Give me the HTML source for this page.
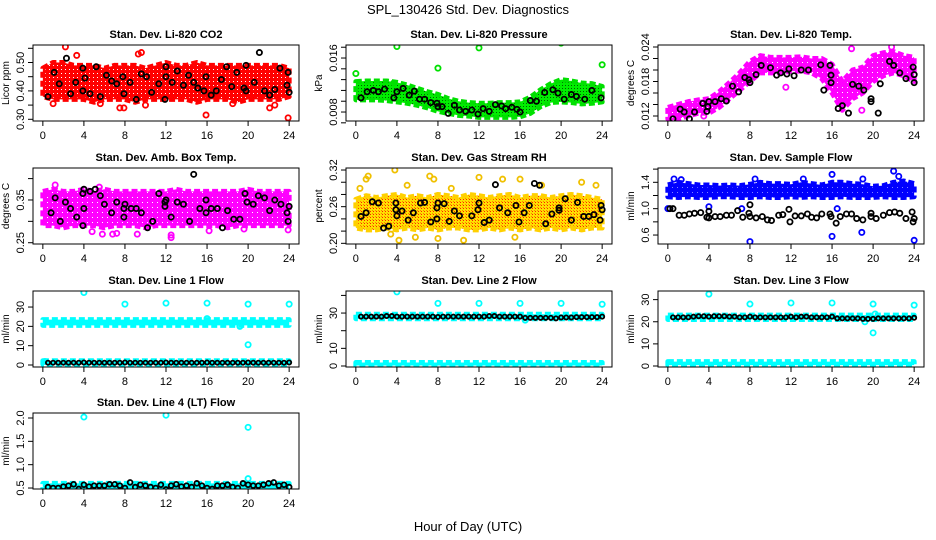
<!DOCTYPE html>
<html><head><meta charset="utf-8"><style>
html,body{margin:0;padding:0;background:#fff;}
svg{display:block;font-family:"Liberation Sans",Arial,sans-serif;}
</style></head><body>
<svg id="chart" width="936" height="540" viewBox="0 0 936 540" xmlns="http://www.w3.org/2000/svg">
<defs>
<pattern id="pat-red" width="4" height="4" patternUnits="userSpaceOnUse"><rect width="4" height="4" fill="#ff0000"/><rect x="1" y="1" width="1" height="1" fill="#fff"/></pattern>
<pattern id="pat-grn" width="3" height="3" patternUnits="userSpaceOnUse"><rect width="3" height="3" fill="#00ee00"/><rect x="1" y="1" width="1" height="1" fill="#006000"/></pattern>
<pattern id="pat-mag" width="5" height="5" patternUnits="userSpaceOnUse"><rect width="5" height="5" fill="#ff00ff"/><rect x="2" y="2" width="1" height="1" fill="#fff"/></pattern>
<pattern id="pat-rh" width="3" height="3" patternUnits="userSpaceOnUse"><rect width="3" height="3" fill="#ffe000"/><rect x="1" y="1" width="1" height="1" fill="#ff2000"/><rect x="0" y="0" width="1" height="1" fill="#ff8000"/></pattern>
<pattern id="pat-blu" width="5" height="5" patternUnits="userSpaceOnUse"><rect width="5" height="5" fill="#0000ff"/><rect x="2" y="2" width="1" height="1" fill="#8080ff"/></pattern>
</defs>
<rect width="936" height="540" fill="#fff"/>
<text x="468" y="14" text-anchor="middle" font-size="13">SPL_130426  Std. Dev. Diagnostics</text>
<text x="468" y="531" text-anchor="middle" font-size="13">Hour of Day (UTC)</text>
</svg>
<script>
// ---- shared data ----
const xTicks=[0,4,8,12,16,20,24];
const halfHours=[0.5,1,1.5,2,2.5,3,3.5,4,4.5,5,5.5,6,6.5,7,7.5,8,8.5,9,9.5,10,10.5,11,11.5,12,12.5,13,13.5,14,14.5,15,15.5,16,16.5,17,17.5,18,18.5,19,19.5,20,20.5,21,21.5,22,22.5,23,23.5,24];
const hours=[0,1,2,3,4,5,6,7,8,9,10,11,12,13,14,15,16,17,18,19,20,21,22,23,24];
const endHours=[0,24];

// P1 CO2
const co2Lo=[0.38,0.37,0.37,0.37,0.37,0.36,0.37,0.37,0.37,0.36,0.37,0.37,0.37,0.37,0.37,0.36,0.37,0.37,0.37,0.36,0.37,0.37,0.37,0.37,0.38];
const co2Hi=[0.48,0.50,0.50,0.49,0.49,0.49,0.48,0.49,0.49,0.49,0.48,0.49,0.50,0.49,0.49,0.50,0.49,0.49,0.49,0.49,0.49,0.49,0.49,0.49,0.48];
const co2OutX=[2.2,3.3,9.3,9.6,1.0,7.5,7.9,15.9,23.9,22.1,22.6,18.5,10,5.6];
const co2OutY=[0.555,0.525,0.53,0.535,0.355,0.34,0.34,0.315,0.305,0.34,0.35,0.355,0.35,0.355];
const co2BlkX=[0.5,1.1,1.6,2.3,2.7,3.2,3.9,3.9,4.1,4.6,5.2,5.6,6.2,6.7,7.2,7.8,7.9,8.5,9.1,9.6,10.1,10.6,11.3,11.9,12.0,12.0,12.6,13.1,13.7,14.2,14.7,15.1,15.7,15.9,16.4,16.9,17.4,17.9,18.4,18.9,19.6,19.8,19.8,20.6,21.1,21.6,22.1,22.6,23.1,23.8,23.9,24.0];
const co2BlkY=[0.38,0.465,0.425,0.515,0.39,0.43,0.40,0.48,0.445,0.39,0.485,0.38,0.455,0.435,0.425,0.45,0.39,0.43,0.37,0.46,0.45,0.395,0.425,0.37,0.485,0.45,0.43,0.47,0.42,0.455,0.43,0.41,0.40,0.45,0.385,0.40,0.44,0.485,0.415,0.465,0.41,0.40,0.49,0.43,0.535,0.40,0.385,0.405,0.48,0.42,0.465,0.395];

// P2 Pressure
const prsLo=[.0098,.0098,.0098,.0097,.0095,.0093,.0090,.0086,.0081,.0078,.0075,.0074,.0072,.0072,.0072,.0072,.0073,.0078,.0088,.0094,.0095,.0094,.0092,.0093,.0095];
const prsHi=[.0125,.0126,.0126,.0126,.0124,.0120,.0115,.0110,.0106,.0100,.0096,.0094,.0093,.0093,.0094,.0094,.0095,.0102,.0113,.0122,.0128,.0126,.0123,.0122,.0118];
const prsOutX=[0,4,8,12,20,24,3.7];
const prsOutY=[0.0137,0.0177,0.0145,0.0175,0.0182,0.0150,0.0123];
const prsBlkX=[0.5,1.1,1.7,2.2,2.8,3.7,4.0,4.6,5.2,5.7,6.2,6.7,7.3,7.9,8.0,8.4,9.0,9.6,10.1,10.7,11.3,11.9,12.4,13.0,13.6,14.2,14.6,15.2,15.7,16.0,17.0,17.6,18.4,19.2,19.7,20.3,21.0,21.5,22.3,23.0,23.9];
const prsBlkY=[0.0101,0.0110,0.0112,0.0110,0.0114,0.0101,0.0110,0.0115,0.0105,0.0111,0.0099,0.0099,0.0094,0.0093,0.0088,0.0088,0.0078,0.0090,0.0083,0.0081,0.0083,0.0077,0.0085,0.0081,0.0091,0.0089,0.0085,0.0087,0.0084,0.0080,0.0097,0.0096,0.0109,0.0113,0.0108,0.0099,0.0106,0.0103,0.0099,0.0112,0.0101];

// P3 Li-820 Temp
const tmpLo=[0.0115,0.0115,0.0120,0.0125,0.0125,0.0135,0.0150,0.0165,0.0180,0.0195,0.0195,0.0195,0.0198,0.0198,0.0195,0.0185,0.0160,0.0130,0.0150,0.0160,0.0180,0.0190,0.0195,0.0190,0.0180];
const tmpHi=[0.0135,0.0140,0.0145,0.0148,0.0150,0.0162,0.0178,0.0195,0.0215,0.0225,0.0222,0.0222,0.0222,0.0223,0.0220,0.0220,0.0210,0.0180,0.0200,0.0205,0.0225,0.0230,0.0232,0.0225,0.0222];
const tmpOutX=[0.6,3.5,11.5,17.9,18.9,21.8];
const tmpOutY=[0.0110,0.0120,0.0170,0.0237,0.0130,0.0240];
const tmpBlkX=[0.5,1.2,1.6,2.1,2.6,3.4,3.8,3.9,4.0,4.6,5.2,5.7,6.3,6.9,7.5,7.9,8.0,8.6,9.1,10.0,10.6,11.0,11.6,11.8,12.3,13.0,13.7,14.9,15.8,15.9,15.9,15.2,16.6,17.0,17.6,18.0,18.6,19.1,19.8,19.8,20.5,20.7,21.6,22.0,22.6,23.2,23.9,24.0,24.0];
const tmpBlkY=[0.0115,0.0132,0.0127,0.0115,0.0127,0.0142,0.0128,0.0136,0.0145,0.0145,0.015,0.0146,0.0172,0.0162,0.0187,0.0183,0.0178,0.0192,0.0208,0.0204,0.0191,0.0195,0.0193,0.0202,0.0190,0.0200,0.0200,0.0209,0.0208,0.0191,0.0178,0.0165,0.0133,0.0138,0.0125,0.0175,0.0172,0.0165,0.0145,0.0150,0.0125,0.0176,0.0215,0.0208,0.0195,0.0185,0.0205,0.0192,0.0178];

// P4 Amb Box Temp
const ambLo=[0.29,0.29,0.285,0.29,0.29,0.29,0.285,0.29,0.29,0.29,0.285,0.29,0.29,0.29,0.29,0.29,0.29,0.29,0.285,0.29,0.29,0.29,0.29,0.29,0.29];
const ambHi=[0.37,0.375,0.37,0.37,0.375,0.37,0.375,0.37,0.37,0.37,0.37,0.37,0.37,0.375,0.37,0.37,0.37,0.37,0.37,0.37,0.375,0.37,0.37,0.37,0.37];
const ambOutX=[1.2,5.5,6.8,5.8,9.2,12.5,12.5,7.2,19.6,23.9,16.2,4.8];
const ambOutY=[0.385,0.38,0.27,0.27,0.27,0.268,0.262,0.272,0.282,0.28,0.278,0.276];
const ambBlkX=[0.8,1.2,1.7,2.2,2.7,3.3,3.9,3.9,4.0,4.0,4.6,5.1,5.6,6.0,6.7,7.2,7.9,7.9,8.0,8.6,9.1,9.6,10.2,10.7,11.3,11.9,11.9,12.0,12.5,13.1,13.7,14.3,14.7,15.3,15.9,15.9,16.4,17.0,17.5,18.0,18.6,19.2,19.9,19.7,20.5,21.0,21.6,22.1,22.6,23.2,23.8,23.9,24.0];
const ambBlkY=[0.32,0.355,0.30,0.345,0.33,0.31,0.29,0.365,0.33,0.375,0.37,0.375,0.36,0.34,0.32,0.345,0.31,0.33,0.34,0.33,0.33,0.32,0.285,0.30,0.365,0.335,0.345,0.35,0.31,0.345,0.34,0.30,0.41,0.33,0.32,0.35,0.33,0.33,0.285,0.325,0.305,0.305,0.345,0.365,0.34,0.36,0.355,0.325,0.35,0.34,0.32,0.30,0.335];

// P5 Gas Stream RH
const rhLo=[0.225,0.222,0.222,0.225,0.222,0.225,0.222,0.225,0.222,0.225,0.225,0.222,0.222,0.225,0.222,0.225,0.222,0.225,0.222,0.225,0.222,0.225,0.222,0.225,0.225];
const rhHi=[0.272,0.278,0.275,0.278,0.28,0.275,0.278,0.275,0.28,0.278,0.275,0.28,0.278,0.275,0.278,0.28,0.275,0.278,0.278,0.275,0.278,0.28,0.278,0.275,0.272];
const rhOutX=[0.4,1.0,1.2,3.8,5.0,7.2,7.6,12.0,14.3,16.0,4.2,5.8,8.0,10.5,15.5,3.4,22.0,23.4,9.3,18.1];
const rhOutY=[0.29,0.305,0.31,0.32,0.295,0.31,0.305,0.308,0.305,0.305,0.205,0.21,0.208,0.205,0.21,0.215,0.30,0.295,0.29,0.295];
const rhBlkX=[0.5,1.0,1.6,2.2,2.7,3.2,3.9,3.9,4.0,4.5,5.1,5.6,6.3,6.7,7.3,7.9,7.9,8.0,8.6,9.1,9.6,10.1,11.3,11.9,12.0,12.5,13.0,13.6,14.0,14.8,15.6,15.9,16.4,16.9,17.4,17.9,18.5,19.1,19.8,19.8,20.4,21.0,21.6,22.2,22.7,23.2,23.8,23.9,24.0];
const rhBlkY=[0.244,0.250,0.268,0.266,0.225,0.228,0.266,0.255,0.245,0.253,0.238,0.250,0.266,0.267,0.235,0.258,0.240,0.266,0.265,0.236,0.253,0.245,0.245,0.255,0.266,0.234,0.238,0.296,0.258,0.25,0.262,0.235,0.25,0.262,0.298,0.295,0.232,0.248,0.258,0.254,0.273,0.238,0.267,0.244,0.244,0.247,0.238,0.262,0.255];

// P6 Sample Flow
const sfLo=[1.18,1.17,1.18,1.17,1.17,1.18,1.18,1.17,1.17,1.18,1.17,1.17,1.18,1.17,1.18,1.17,1.17,1.18,1.17,1.17,1.17,1.18,1.17,1.17,1.18];
const sfHi=[1.36,1.40,1.38,1.36,1.36,1.35,1.36,1.35,1.37,1.40,1.38,1.38,1.37,1.40,1.38,1.36,1.40,1.40,1.38,1.37,1.34,1.35,1.40,1.42,1.38];
const sfOutX=[0,0.6,1.3,4,8,8.5,13.2,16,16,16.5,18.9,22,22.5,24,7.2,19];
const sfOutY=[1.0,1.45,1.44,1.03,0.5,1.45,1.45,1.52,0.58,1.0,0.64,1.57,1.49,0.52,1.0,1.45];
const sfBlkX=[0.2,0.5,1.1,1.6,2.1,2.6,3.2,3.8,4.0,4.0,4.6,5.1,5.7,6.2,6.8,7.3,7.9,8.0,8.0,8.6,9.2,9.7,10.1,10.8,11.2,11.8,11.9,12.4,13.0,13.6,14.0,14.5,15.0,15.8,15.9,16.4,16.8,17.4,17.9,18.4,19.0,19.8,19.8,20.3,21.0,21.6,22.1,22.6,23.2,23.8,23.9,24.0];
const sfBlkY=[1.0,1.0,0.9,0.9,0.92,0.93,0.94,0.87,0.96,0.86,0.88,0.88,0.90,0.90,0.97,0.87,0.93,1.06,0.88,0.86,0.88,0.83,0.82,0.90,0.91,0.99,0.80,0.89,0.89,0.92,0.87,0.86,0.92,0.92,0.88,0.78,0.88,0.92,0.92,0.85,0.83,0.93,0.88,0.85,0.90,0.94,0.95,0.93,0.85,0.95,0.80,0.85];

// P7 Line 1
const l1HiLo=[20.5,20.5], l1HiHi=[23.5,23.5], l1LoLo=[0.4,0.4], l1LoHi=[2.2,2.2];
const l1OutX=[4,8,12,16,20,24,20,16,19.2,0.2];
const l1OutY=[37.5,31.5,32,32,31.5,31.5,10.5,24,20,1.8];
const l1BlkY=[1.2,1.2,1.2,1.2,1.2,1.2,1.2,1.3,1.2,1.2,1.2,1.2,1.2,1.2,1.2,1.3,1.2,1.2,1.2,1.2,1.2,1.2,1.2,1.3,1.2,1.2,1.2,1.2,1.2,1.2,1.2,1.3,1.2,1.2,1.2,1.2,1.2,1.2,1.2,1.3,1.2,1.2,1.2,1.2,1.2,1.2,1.2,1.3];

// P8 Line 2
const l2HiLo=[26.8,26.8], l2HiHi=[29.3,29.3], l2LoLo=[0.3,0.3], l2LoHi=[2.0,2.0];
const l2OutX=[4,8,12,16,20,24,16.5];
const l2OutY=[42,35.5,35.5,35.5,35.5,35,26];
const l2BlkY=[28,28,28,28,28,28.3,28.3,28,28,28,28,28,28,28,28,27.8,28,28,28,28,28,28,28,28,28,28.3,28.3,28,28,28,28,28,27.3,27.3,27.3,27.3,27.3,27.3,27,27.5,27.5,27.5,27.7,27.7,27.7,27.7,27.7,28];

// P9 Line 3
const l3HiLo=[21,21], l3HiHi=[23,23], l3LoLo=[0.4,0.4], l3LoHi=[2.0,2.0];
const l3OutX=[4,8,12,16,20,24,20,19.2,20.2];
const l3OutY=[32.5,28,28.5,28.5,28,27.5,15,20,23.5];
const l3BlkY=[22,22,22,22,22.3,22.5,22.5,22.3,22.5,22.5,22.5,22.3,22.3,22,22,22.3,22,22,22,22,22,22,22,22.3,22,22.3,22.3,22,22,22,22,22.3,21.5,21.5,21.5,21.5,21.5,21.3,21.3,21.3,21.5,21.5,21.5,21.5,21.5,21.5,21.5,21.8];

// P10 Line 4 (LT)
const l4HiLo=[0.47,0.47], l4HiHi=[0.6,0.6];
const l4OutX=[4,12,20,20];
const l4OutY=[2.02,2.06,1.80,0.70];
const l4BlkY=[0.52,0.50,0.50,0.53,0.55,0.58,0.48,0.57,0.53,0.55,0.55,0.55,0.58,0.58,0.55,0.50,0.62,0.52,0.57,0.55,0.52,0.50,0.57,0.47,0.55,0.58,0.53,0.55,0.52,0.60,0.55,0.50,0.48,0.55,0.55,0.57,0.52,0.50,0.60,0.57,0.55,0.55,0.57,0.60,0.62,0.55,0.57,0.52];

// tick arrays
const co2Ticks=[0.30,0.35,0.40,0.45,0.50,0.55], co2Labels=['0.30','','0.40','','0.50',''];
const prsTicks=[0.0064,0.008,0.0096,0.0112,0.0128,0.0144,0.016,0.0176], prsLabels=['','0.008','','','','','0.016',''];
const tmpTicks=[0.012,0.014,0.016,0.018,0.020,0.022,0.024], tmpLabels=['0.012','','','0.018','','','0.024'];
const ambTicks=[0.25,0.30,0.35,0.40], ambLabels=['0.25','','0.35',''];
const rhTicks=[0.20,0.22,0.24,0.26,0.28,0.30,0.32], rhLabels=['0.20','','','0.26','','','0.32'];
const sfTicks=[0.6,0.8,1.0,1.2,1.4,1.6], sfLabels=['0.6','','1.0','','1.4',''];
const l1Ticks=[0,10,20,30], l1Labels=['0','10','20','30'];
const l2Ticks=[0,10,20,30,40], l2Labels=['0','10','','30',''];
const l3Ticks=[0,10,20,30], l3Labels=['0','10','20','30'];
const l4Ticks=[0.5,1.0,1.5,2.0], l4Labels=['0.5','1.0','1.5','2.0'];

const NS='http://www.w3.org/2000/svg';
const svg=document.getElementById('chart');
function mk(tag,parent){const e=document.createElementNS(NS,tag);parent.appendChild(e);return e;}

const colL=[33,346,658], rowT=[45,168,291,413], W=266, H=76;

function panel(p){
  const x0=colL[p.col], y0=rowT[p.row];
  const g=mk('g',svg);
  
  
  const xs=v=>x0+(v+0.96)/25.92*W;
  const ys=v=>y0+H-(v-p.ymin)/(p.ymax-p.ymin)*H;
  const cp=mk('clipPath',g); cp.setAttribute('id','c'+p.name);
  const cr=mk('rect',cp); cr.setAttribute('x',x0);cr.setAttribute('y',y0);cr.setAttribute('width',W);cr.setAttribute('height',H);
  const pg=mk('g',g); pg.setAttribute('clip-path','url(#c'+p.name+')');
  
  
  p.bands.forEach(b=>{
    let pts=b.x.map((t,i)=>xs(t)+','+ys(b.hi[i]));
    pts=pts.concat(b.x.map((t,i)=>xs(t)+','+ys(b.lo[i])).reverse());
    const poly=mk('polygon',pg);
    poly.setAttribute('points',pts.join(' '));
    poly.setAttribute('fill',b.fill);poly.setAttribute('stroke',b.stroke);poly.setAttribute('stroke-width','5');poly.setAttribute('stroke-linejoin','round');
    poly.setAttribute('stroke-dasharray','6 3');
    
    
  });
  function dots(X,Y,col,nm,r){
    X.forEach((t,i)=>{const c=mk('circle',pg);
      c.setAttribute('cx',xs(t));c.setAttribute('cy',ys(Y[i]));c.setAttribute('r',r);
      c.setAttribute('fill','none');c.setAttribute('stroke',col);c.setAttribute('stroke-width',1.8);
      
      });
  }
  dots(p.ox,p.oy,p.oc,'outlier-point',2.6);
  dots(p.bx,p.by,'#000','hourly-point',p.br||2.6);
  const box=mk('rect',g);box.setAttribute('x',x0);box.setAttribute('y',y0);box.setAttribute('width',W);box.setAttribute('height',H);
  box.setAttribute('fill','none');box.setAttribute('stroke','#000');box.setAttribute('stroke-width','1');
  
  
  xTicks.forEach(t=>{const l=mk('line',g);const X=xs(t);
    l.setAttribute('x1',X);l.setAttribute('x2',X);l.setAttribute('y1',y0+H);l.setAttribute('y2',y0+H+5);l.setAttribute('stroke','#000');
    
    
    const tx=mk('text',g);tx.setAttribute('x',X);tx.setAttribute('y',y0+H+18);tx.setAttribute('text-anchor','middle');tx.setAttribute('font-size','11');tx.textContent=t;
    
    });
  p.ticks.forEach((t,i)=>{const Y=ys(t);const l=mk('line',g);
    l.setAttribute('x1',x0-5);l.setAttribute('x2',x0);l.setAttribute('y1',Y);l.setAttribute('y2',Y);l.setAttribute('stroke','#000');
    
    
    if(p.labels[i]){const tx=mk('text',g);tx.setAttribute('transform','translate('+(x0-9)+','+Y+') rotate(-90)');
      tx.setAttribute('text-anchor','middle');tx.setAttribute('font-size','11');tx.textContent=p.labels[i];
      
      }});
  const yt=mk('text',g);yt.setAttribute('transform','translate('+(x0-24)+','+(y0+H/2)+') rotate(-90)');
  yt.setAttribute('text-anchor','middle');yt.setAttribute('font-size','10');yt.textContent=p.ylab;
  
  
  const tt=mk('text',g);tt.setAttribute('x',x0+W/2);tt.setAttribute('y',y0-7);tt.setAttribute('text-anchor','middle');
  tt.setAttribute('font-size','11');tt.setAttribute('font-weight','bold');tt.textContent=p.title;
  
  
}
const RED='#ff0000',GRN='#00e000',MAG='#ff00ff',BLU='#0000ff',CYN='#00ffff';
panel({name:'panel-co2',col:0,row:0,title:'Stan. Dev. Li-820 CO2',ylab:'Licor ppm',ymin:0.294,ymax:0.5616,ticks:co2Ticks,labels:co2Labels,
  bands:[{x:hours,lo:co2Lo,hi:co2Hi,fill:'url(#pat-red)',stroke:RED}],ox:co2OutX,oy:co2OutY,oc:RED,bx:co2BlkX,by:co2BlkY});
panel({name:'panel-pressure',col:1,row:0,title:'Stan. Dev. Li-820 Pressure',ylab:'kPa',ymin:0.00667,ymax:0.01793,ticks:prsTicks,labels:prsLabels,
  bands:[{x:hours,lo:prsLo,hi:prsHi,fill:'url(#pat-grn)',stroke:GRN}],ox:prsOutX,oy:prsOutY,oc:GRN,bx:prsBlkX,by:prsBlkY});
panel({name:'panel-temp',col:2,row:0,title:'Stan. Dev. Li-820 Temp.',ylab:'degrees C',ymin:0.01113,ymax:0.02435,ticks:tmpTicks,labels:tmpLabels,
  bands:[{x:hours,lo:tmpLo,hi:tmpHi,fill:'url(#pat-mag)',stroke:MAG}],ox:tmpOutX,oy:tmpOutY,oc:MAG,bx:tmpBlkX,by:tmpBlkY});
panel({name:'panel-amb-box-temp',col:0,row:1,title:'Stan. Dev. Amb. Box Temp.',ylab:'degrees C',ymin:0.247,ymax:0.4248,ticks:ambTicks,labels:ambLabels,
  bands:[{x:hours,lo:ambLo,hi:ambHi,fill:'url(#pat-mag)',stroke:MAG}],ox:ambOutX,oy:ambOutY,oc:MAG,bx:ambBlkX,by:ambBlkY});
panel({name:'panel-gas-rh',col:1,row:1,title:'Stan. Dev. Gas Stream RH',ylab:'percent',ymin:0.1989,ymax:0.3233,ticks:rhTicks,labels:rhLabels,
  bands:[{x:hours,lo:rhLo,hi:rhHi,fill:'url(#pat-rh)',stroke:'#ffd000'}],ox:rhOutX,oy:rhOutY,oc:'#f0c000',bx:rhBlkX,by:rhBlkY});
panel({name:'panel-sample-flow',col:2,row:1,title:'Stan. Dev. Sample Flow',ylab:'ml/min',ymin:0.464,ymax:1.617,ticks:sfTicks,labels:sfLabels,
  bands:[{x:hours,lo:sfLo,hi:sfHi,fill:'url(#pat-blu)',stroke:BLU}],ox:sfOutX,oy:sfOutY,oc:BLU,bx:sfBlkX,by:sfBlkY});
panel({name:'panel-line1-flow',col:0,row:2,title:'Stan. Dev. Line 1 Flow',ylab:'ml/min',ymin:-1.03,ymax:38.3,ticks:l1Ticks,labels:l1Labels,br:2.1,
  bands:[{x:endHours,lo:l1HiLo,hi:l1HiHi,fill:CYN,stroke:CYN},{x:endHours,lo:l1LoLo,hi:l1LoHi,fill:CYN,stroke:CYN}],ox:l1OutX,oy:l1OutY,oc:CYN,bx:halfHours,by:l1BlkY});
panel({name:'panel-line2-flow',col:1,row:2,title:'Stan. Dev. Line 2 Flow',ylab:'ml/min',ymin:-0.57,ymax:42.5,ticks:l2Ticks,labels:l2Labels,br:2.1,
  bands:[{x:endHours,lo:l2HiLo,hi:l2HiHi,fill:CYN,stroke:CYN},{x:endHours,lo:l2LoLo,hi:l2LoHi,fill:CYN,stroke:CYN}],ox:l2OutX,oy:l2OutY,oc:CYN,bx:halfHours,by:l2BlkY});
panel({name:'panel-line3-flow',col:2,row:2,title:'Stan. Dev. Line 3 Flow',ylab:'ml/min',ymin:-0.45,ymax:33.9,ticks:l3Ticks,labels:l3Labels,br:2.1,
  bands:[{x:endHours,lo:l3HiLo,hi:l3HiHi,fill:CYN,stroke:CYN},{x:endHours,lo:l3LoLo,hi:l3LoHi,fill:CYN,stroke:CYN}],ox:l3OutX,oy:l3OutY,oc:CYN,bx:halfHours,by:l3BlkY});
panel({name:'panel-line4-flow',col:0,row:3,title:'Stan. Dev. Line 4 (LT) Flow',ylab:'ml/min',ymin:0.479,ymax:2.107,ticks:l4Ticks,labels:l4Labels,br:2.4,
  bands:[{x:endHours,lo:l4HiLo,hi:l4HiHi,fill:CYN,stroke:CYN}],ox:l4OutX,oy:l4OutY,oc:CYN,bx:halfHours,by:l4BlkY});
</script>
</body></html>
